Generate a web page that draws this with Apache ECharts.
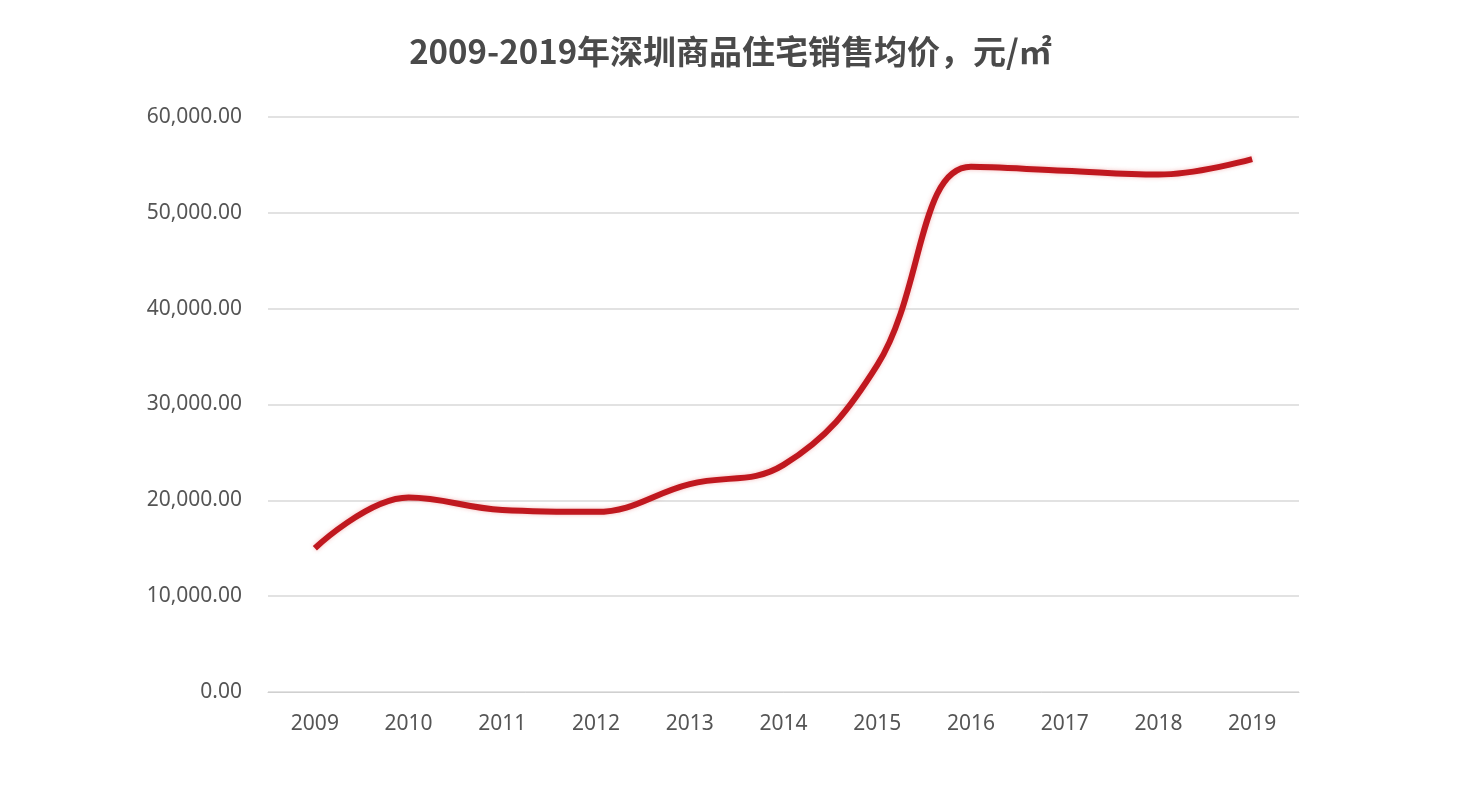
<!DOCTYPE html>
<html><head><meta charset="utf-8">
<script src="https://cdn.jsdelivr.net/npm/echarts@6/dist/echarts.min.js"></script>
<style>html,body{margin:0;background:#fff}#c{width:1461px;height:800px}</style>
</head><body><div id="c"></div>
<script>
const categories = ['2009','2010','2011','2012','2013','2014','2015','2016','2017','2018','2019'];
const prices = [15000,20300,19000,18800,21700,23700,34100,54800,54400,54000,55600];
const chart = echarts.init(document.getElementById('c'));
chart.setOption({
  animation:false,
  title:{text:'2009-2019年深圳商品住宅销售均价，元/㎡',left:'center',top:30,
    textStyle:{fontFamily:'Noto Sans CJK SC',fontSize:33,fontWeight:'bold',color:'#4a4a4a'}},
  grid:{left:268,right:162,top:117,bottom:108},
  xAxis:{type:'category',data:categories,boundaryGap:true,
    axisLine:{lineStyle:{color:'#d0d0d0'}},axisTick:{show:false},
    axisLabel:{color:'#555',fontSize:21,margin:22,fontFamily:'Noto Sans'}},
  yAxis:{type:'value',min:0,max:60000,interval:10000,
    axisLabel:{color:'#555',fontSize:21,margin:26,fontFamily:'Noto Sans',
      formatter:v=>v.toLocaleString('en-US',{minimumFractionDigits:2})},
    splitLine:{lineStyle:{color:'#d9d9d9',width:1.5}}},
  series:[{type:'line',data:prices,smooth:0.4,symbol:'none',
    lineStyle:{color:'#c0181f',width:6,shadowColor:'rgba(220,60,60,0.35)',shadowBlur:4}}]
});
</script></body></html>
